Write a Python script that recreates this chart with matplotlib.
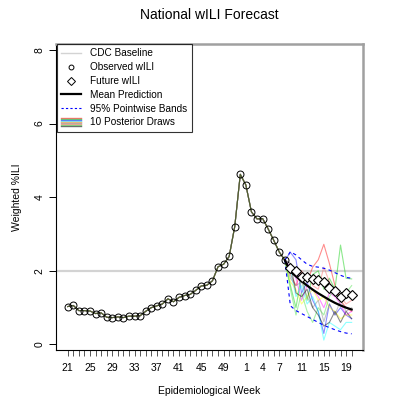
import matplotlib
matplotlib.use('Agg')
import matplotlib.pyplot as plt
from matplotlib.lines import Line2D
from matplotlib.legend_handler import HandlerBase

plt.rcParams['font.family'] = ['Liberation Sans', 'DejaVu Sans']

# epidemiological weeks of the season (x axis)
weeks = list(range(21, 53)) + list(range(1, 21))
# positions (index into weeks) that carry a label
label_pos = [0, 4, 8, 12, 16, 20, 24, 28, 32, 35, 38, 42, 46, 50]

# observed wILI, weeks 21..8
observed = [1.03, 1.06, 0.92, 0.92, 0.91, 0.84, 0.86, 0.74, 0.73, 0.75,
            0.73, 0.77, 0.77, 0.78, 0.90, 1.00, 1.05, 1.10, 1.24, 1.16,
            1.28, 1.33, 1.36, 1.47, 1.59, 1.61, 1.73, 2.11, 2.18, 2.39,
            3.20, 4.62, 4.33, 3.60, 3.41, 3.42, 3.14, 2.83, 2.51, 2.29]
# future wILI, weeks 9..20
future = [2.07, 2.00, 1.84, 1.82, 1.77, 1.75, 1.69, 1.53, 1.46, 1.28, 1.39, 1.35]
# forecast, weeks 9..20
mean_pred = [1.98, 1.85, 1.72, 1.60, 1.49, 1.39, 1.30, 1.21, 1.13, 1.06, 1.00, 0.95]
upper_band = [2.52, 2.43, 2.30, 2.18, 2.12, 2.10, 2.07, 2.02, 1.95, 1.88, 1.82, 1.80]
lower_band = [1.05, 0.92, 0.84, 0.76, 0.68, 0.60, 0.52, 0.46, 0.40, 0.35, 0.31, 0.29]
baseline = 2.0

draws = [
    [1.90, 1.60, 2.00, 1.70, 2.10, 2.30, 2.72, 2.20, 1.60, 1.20, 1.00, 0.90],
    [1.60, 1.00, 1.90, 1.20, 1.90, 2.00, 1.50, 1.80, 1.50, 2.70, 1.80, 1.78],
    [2.50, 2.30, 1.40, 1.70, 1.20, 0.90, 0.30, 1.10, 0.80, 1.00, 0.80, 0.70],
    [2.00, 1.30, 1.60, 1.10, 1.30, 0.90, 0.12, 0.60, 0.50, 0.40, 0.60, 0.60],
    [2.10, 1.80, 1.20, 1.60, 1.50, 1.30, 1.00, 1.40, 1.30, 1.10, 0.80, 0.90],
    [1.70, 1.50, 1.10, 1.30, 1.50, 1.20, 1.30, 1.00, 0.90, 0.70, 0.80, 0.80],
    [1.80, 1.60, 1.70, 1.30, 1.00, 1.20, 0.62, 1.10, 0.80, 1.20, 0.90, 1.00],
    [2.00, 1.90, 1.80, 1.90, 1.60, 1.50, 2.10, 1.70, 1.40, 1.30, 1.10, 1.20],
    [1.50, 0.80, 1.40, 0.90, 0.60, 1.00, 0.80, 1.30, 1.50, 1.20, 1.40, 1.60],
    [2.20, 1.40, 1.30, 1.50, 1.00, 0.80, 0.50, 0.60, 0.90, 0.60, 0.90, 0.70],
]
draw_colors = ['#FF0000', '#00CD00', '#0000FF', '#00FFFF', '#FF00FF',
               '#FFFF00', '#808080', '#FF6060', '#40E040', '#000000']


class StackHandler(HandlerBase):
    # legend swatch: the draw colours stacked as thin horizontal lines
    def create_artists(self, legend, orig_handle, xdescent, ydescent,
                       width, height, fontsize, trans):
        arts = []
        n = len(draw_colors)
        for i, c in enumerate(draw_colors):
            y = -ydescent + height * 1.15 * (n - 1 - i + 0.5) / n - 0.07 * height
            arts.append(Line2D([-xdescent, width - xdescent], [y, y], color=c,
                               alpha=0.55, lw=1.0, transform=trans))
        return arts


n_obs = len(observed)
x_obs = list(range(n_obs))
x_fut = list(range(n_obs, n_obs + len(future)))
x_fc = [n_obs - 1] + x_fut

fig = plt.figure(figsize=(4.07, 4.07), dpi=100)
ax = fig.add_axes([0.1376, 0.140, 0.7531, 0.752])

ax.axhline(baseline, color='#D3D3D3', lw=1.6, zorder=1)

for d, c in zip(draws, draw_colors):
    ax.plot(x_obs + x_fut, observed + d, color=c, alpha=0.45, lw=0.8, zorder=2)

ax.plot(x_fc, [observed[-1]] + mean_pred, color='black', lw=1.6, zorder=4)
ax.plot(x_fc, [observed[-1]] + upper_band, color='blue', lw=0.8, ls=(0, (3, 3)), zorder=3)
ax.plot(x_fc, [observed[-1]] + lower_band, color='blue', lw=0.8, ls=(0, (3, 3)), zorder=3)

ax.plot(x_obs, observed, 'o', ms=5, mfc='none', mec='black', mew=0.7, zorder=5)
ax.plot(x_fut, future, 'D', ms=5, mfc='white', mec='black', mew=0.8, zorder=5)

ax.set_xlim(-2.1, 52.95)
ax.set_ylim(-0.15, 8.16)

ax.set_xticks(range(len(weeks)))
ax.set_xticklabels([str(w) if i in label_pos else '' for i, w in enumerate(weeks)])
ax.set_yticks([0, 2, 4, 6, 8])
ax.set_yticklabels(['0', '2', '4', '6', '8'], rotation=90, va='center')
ax.tick_params(axis='x', length=4, width=0.7, color='#555555', labelsize=7.5, pad=5)
ax.tick_params(axis='y', length=5, width=0.7, labelsize=7.5, pad=3)

for s in ['top', 'right']:
    ax.spines[s].set_color('#A0A0A0')
    ax.spines[s].set_linewidth(1.8)
for s in ['left', 'bottom']:
    ax.spines[s].set_linewidth(0.8)

ax.set_title('National wILI Forecast', fontsize=10, pad=18)
ax.set_xlabel('Epidemiological Week', fontsize=7.5, labelpad=10)
ax.set_ylabel('Weighted %ILI', fontsize=7.5, labelpad=9)

handles = [
    Line2D([], [], color='#D3D3D3', lw=1.0),
    Line2D([], [], ls='none', marker='o', ms=3.5, mfc='none', mec='black', mew=0.7),
    Line2D([], [], ls='none', marker='D', ms=4, mfc='none', mec='black', mew=0.7),
    Line2D([], [], color='black', lw=1.6),
    Line2D([], [], color='blue', lw=0.8, ls=(0, (2, 2))),
    Line2D([], [], color='none'),
]
labels = ['CDC Baseline', 'Observed wILI', 'Future wILI', 'Mean Prediction',
          '95% Pointwise Bands', '10 Posterior Draws']
leg = ax.legend(handles, labels, loc='upper left', bbox_to_anchor=(0.003, 1.0),
                borderaxespad=0, fontsize=7.2, frameon=True, fancybox=False,
                edgecolor='black', handlelength=2.0, handletextpad=0.9,
                labelspacing=0.38, borderpad=0.45,
                handler_map={handles[5]: StackHandler()})
leg.get_frame().set_linewidth(0.8)

fig.savefig('out.png', dpi=100)
